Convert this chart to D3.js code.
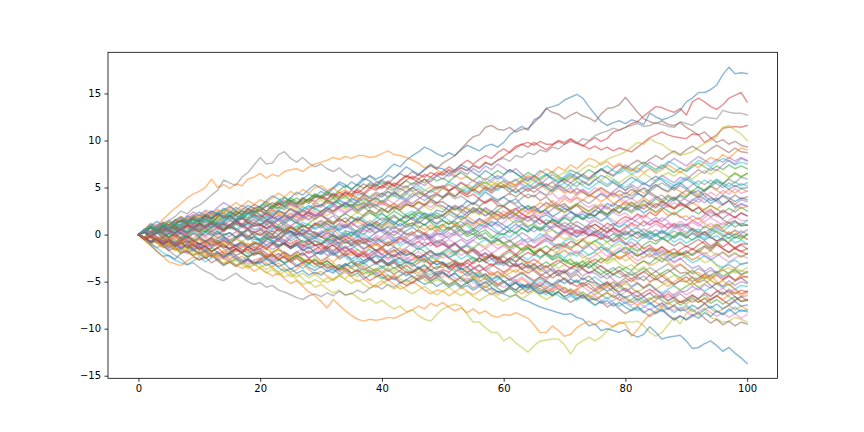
<!DOCTYPE html>
<html><head><meta charset="utf-8">
<script src="https://cdn.jsdelivr.net/npm/d3@7"></script>
<style>html,body{margin:0;padding:0;background:#fff}svg{display:block}</style>
</head><body>
<svg id="chart" width="864" height="432"></svg>
<script>
const xTicks = [0, 20, 40, 60, 80, 100];
const yTicks = [-15, -10, -5, 0, 5, 10, 15];

const walk00 = [0,0.4,0.9,0.6,1.2,1.0,1.5,1.9,1.4,1.8, 2.1,1.7,2.3,2.0,2.6,3.0,2.5,2.2,2.8,2.4, 2.6,3.1,2.7,3.3,3.9,3.5,3.2,3.8,4.3,4.0, 4.6,4.2,4.9,5.4,5.0,5.6,5.2,5.8,6.3,5.9, 6.2,6.9,7.5,7.2,7.9,8.4,8.8,9.3,9.0,8.6, 8.3,8.7,8.4,9.0,9.5,9.2,8.9,9.4,9.6,9.3, 9.8,10.6,11.1,11.5,11.1,12.2,12.5,13.4,13.6,13.8, 14.3,14.6,14.9,14.5,13.6,12.8,12.0,11.6,11.9,12.1, 11.8,12.2,12.0,11.7,12.9,12.5,12.2,12.4,12.7,13.2, 14.1,14.5,15.1,15.1,15.4,15.9,17.0,17.8,17.1,17.2, 17.1];
const walk01 = [0,0.6,1.2,0.9,1.6,2.2,2.8,3.3,3.9,4.3, 4.6,5.0,5.9,5.0,5.3,4.9,5.4,5.2,5.9,6.1, 6.5,6.0,6.4,6.2,6.7,6.9,7.0,6.7,7.2,7.5, 7.7,7.9,8.2,8.0,8.3,8.1,8.4,8.4,8.2,8.3, 8.6,8.9,8.5,8.4,8.2,7.9,7.6,7.1,7.4,6.9, 6.5,6.8,6.3,5.9,6.2,5.7,5.3,5.6,5.1,5.4, 5.0,5.5,5.2,5.7,5.3,4.9,5.3,4.8,4.5,4.9, 4.4,4.7,4.2,4.6,4.1,4.5,4.9,4.4,4.0,4.3, 3.9,4.4,4.8,4.4,4.9,5.3,4.8,4.5,5.0,4.6, 4.2,4.7,4.3,4.8,5.1,4.7,4.3,4.8,4.4,4.9, 4.6];
const walk02 = [0,0.3,0.8,0.4,1.0,0.7,1.2,1.6,1.3,1.9, 1.5,2.0,1.7,2.2,2.6,2.3,2.9,2.5,2.2,2.7, 3.0,3.5,3.1,3.6,4.0,3.5,3.9,3.4,3.8,4.3, 4.0,4.5,4.1,4.7,5.2,4.8,5.3,4.9,5.5,5.1, 5.6,5.2,4.8,5.3,5.7,5.3,5.9,5.5,6.1,5.7, 6.0,5.6,6.2,6.6,6.1,5.7,6.2,5.8,6.3,6.8, 6.4,6.9,6.5,6.1,6.6,6.2,5.8,6.3,6.7,6.2, 5.8,6.3,5.9,6.4,6.9,6.5,7.0,6.6,6.2,6.7, 7.2,6.8,7.3,7.7,7.3,6.9,7.4,7.0,6.6,7.1, 6.7,7.2,7.6,7.2,6.8,7.3,6.9,7.4,7.0,7.3, 7.0];
const walk03 = [0,0.5,0.2,0.8,0.5,1.1,0.7,0.4,0.9,1.3, 1.0,1.6,1.2,1.9,2.3,1.9,2.5,2.1,2.7,3.2, 2.9,2.5,3.0,3.4,3.0,3.6,3.3,3.9,3.5,4.1, 3.8,4.3,3.9,4.5,4.1,4.7,4.4,4.9,5.3,4.9, 5.1,5.6,5.2,5.8,6.3,5.9,6.4,6.1,6.6,6.3, 6.7,7.2,6.8,7.4,7.9,7.5,8.0,8.4,8.1,8.7, 9.1,8.7,9.2,9.6,9.3,9.8,9.4,9.0,9.5,9.9, 9.6,10.1,9.7,9.4,9.9,10.3,9.9,10.2,10.9,11.1, 11.4,11.8,12.0,12.6,13.1,13.6,13.5,13.2,13.0,13.4, 12.7,14.1,14.5,14.1,13.6,13.3,13.8,14.5,14.8,15.1, 14.1];
const walk04 = [0,-0.4,-0.1,-0.7,-0.5,-1.1,-0.8,-0.3,-0.6,-1.2, -1.5,-1.0,-0.6,-0.9,-0.4,-0.8,-1.3,-1.0,-1.4,-0.9, -1.1,-0.5,-0.2,-0.6,0.1,0.4,0.0,0.6,0.3,0.9, 1.3,0.8,0.5,1.0,0.7,1.2,1.7,1.4,0.9,1.3, 1.8,1.5,1.1,1.6,2.0,1.7,2.3,1.9,1.5,1.8, 2.1,2.6,2.2,1.8,2.3,2.9,2.5,2.0,2.4,2.1, 1.7,2.2,2.7,3.1,2.6,3.0,2.5,2.2,2.7,3.2, 2.8,2.4,2.0,2.5,2.1,2.6,3.1,2.7,3.3,3.0, 3.5,3.1,2.6,3.0,3.5,4.0,3.6,3.2,3.7,4.1, 3.7,3.3,3.8,3.4,3.9,3.5,3.1,3.6,3.2,3.7, 3.5];
const walk05 = [0,-0.3,0.2,0.6,0.3,0.8,0.5,1.0,0.7,1.2, 0.9,1.4,1.1,1.7,1.3,1.9,2.2,1.8,2.4,2.1, 2.6,2.3,2.8,3.3,2.9,3.4,3.1,3.7,3.3,3.9, 4.2,3.8,4.4,4.1,4.6,4.3,4.9,5.4,5.0,5.5, 5.8,5.4,6.0,6.5,6.1,6.7,6.3,6.9,7.3,7.0, 7.6,8.0,8.4,9.1,9.8,10.4,10.6,11.4,11.6,11.2, 11.1,11.4,10.9,11.2,11.3,11.9,12.6,13.4,13.0,12.8, 12.3,12.7,13.0,12.6,12.4,12.0,12.8,13.4,13.5,13.8, 14.6,13.8,13.0,12.3,12.0,11.8,12.1,11.7,11.6,11.9, 11.4,11.0,10.6,10.9,10.3,9.8,10.1,9.6,9.9,9.5, 9.3];
const walk06 = [0,0.5,0.9,0.6,0.2,0.7,1.1,0.8,1.3,0.9, 0.5,1.0,1.4,1.1,0.6,0.9,1.4,1.8,1.3,1.0, 1.1,0.7,0.3,0.7,0.2,-0.2,0.3,0.0,-0.5,-0.1, 0.4,0.0,-0.4,-0.9,-0.5,-1.0,-0.6,-0.2,-0.7,-1.1, -0.7,-1.2,-0.8,-0.3,-0.7,-1.2,-1.6,-1.2,-0.8,-1.3, -1.0,-0.5,-0.9,-1.4,-1.0,-0.6,-1.1,-1.5,-2.0,-1.6, -1.2,-1.7,-1.3,-0.9,-1.4,-1.9,-1.5,-2.0,-2.4,-2.0, -1.6,-2.1,-1.7,-2.2,-2.6,-2.2,-1.8,-2.3,-1.9,-1.4, -1.8,-2.3,-2.8,-2.4,-2.0,-2.5,-2.1,-2.6,-3.0,-2.6, -2.2,-2.7,-2.3,-1.9,-2.4,-2.0,-2.5,-2.9,-2.5,-2.2, -2.5];
const walk07 = [0,0.4,0.9,0.6,1.2,1.5,1.9,2.5,2.2,2.8, 3.1,3.6,4.2,4.7,5.8,5.5,5.2,6.1,6.6,7.4, 8.2,7.5,7.6,8.5,8.8,8.1,7.7,8.2,7.6,7.2, 7.5,7.0,6.7,7.1,6.5,6.1,6.4,5.8,6.2,5.7, 5.3,5.7,5.2,4.8,5.2,4.6,4.9,4.3,4.0,4.4, 3.9,4.3,3.8,4.1,3.6,3.2,3.7,3.3,3.8,3.4, 3.0,3.5,3.1,2.6,3.0,2.5,2.9,3.4,3.0,2.6, 3.1,2.7,3.2,3.7,3.3,3.8,4.3,3.9,4.4,4.0, 4.5,4.1,4.6,5.0,4.6,5.1,5.5,5.1,4.7,5.2, 4.8,5.3,5.7,5.3,5.8,5.4,5.0,5.5,5.1,5.4, 5.2];
const walk08 = [0,-0.3,0.2,-0.4,-0.9,-0.6,-1.2,-0.9,-1.5,-1.3, -1.7,-1.4,-2.0,-2.4,-2.1,-2.7,-2.3,-2.9,-3.3,-2.8, -3.2,-3.7,-3.4,-4.0,-4.5,-4.2,-4.8,-5.3,-5.0,-5.6, -5.3,-5.8,-6.2,-5.9,-6.5,-6.2,-6.7,-7.1,-6.8,-7.3, -7.0,-7.5,-7.9,-7.6,-8.2,-8.0,-8.6,-9.0,-9.2,-8.5, -7.9,-7.6,-7.4,-7.6,-8.5,-9.3,-9.3,-9.9,-10.4,-10.4, -11.3,-10.9,-11.5,-12.0,-12.5,-11.8,-11.3,-11.2,-11.1,-11.1, -11.7,-12.7,-11.7,-11.3,-10.9,-11.3,-10.9,-10.2,-9.7,-9.5, -9.3,-9.3,-9.2,-9.7,-10.4,-10.8,-10.4,-9.6,-8.8,-9.5, -8.4,-7.9,-8.6,-7.9,-8.8,-9.0,-9.3,-9.2,-8.8,-9.0, -9.3];
const walk09 = [0,-0.5,-1.0,-1.4,-1.9,-2.3,-2.7,-3.0,-3.2,-2.8, -2.4,-2.9,-2.5,-2.0,-2.4,-1.9,-2.3,-2.7,-2.2,-1.8, -2.1,-2.6,-3.0,-2.6,-3.1,-2.7,-3.2,-3.6,-3.1,-3.5, -3.0,-3.4,-3.9,-3.5,-3.1,-3.6,-4.0,-3.6,-4.1,-3.7, -3.3,-3.8,-4.2,-3.8,-4.3,-3.9,-3.4,-3.9,-4.3,-3.9, -4.0,-4.5,-4.1,-4.6,-5.0,-4.6,-4.2,-4.7,-5.2,-4.8, -4.4,-4.9,-4.5,-4.1,-4.6,-5.1,-4.7,-5.2,-5.6,-5.1, -4.7,-5.2,-4.8,-5.3,-4.9,-4.5,-5.0,-5.5,-5.1,-5.6, -6.0,-5.6,-5.2,-5.7,-5.3,-5.8,-6.2,-5.8,-5.4,-5.9, -5.5,-5.1,-5.6,-6.0,-5.6,-5.2,-5.7,-5.3,-5.8,-5.4, -5.5];
const walk10 = [0,-0.6,-1.1,-1.8,-2.3,-2.2,-2.6,-2.0,-1.7,-2.2, -1.9,-2.5,-2.1,-2.8,-3.3,-2.9,-2.6,-3.1,-2.7,-3.2, -3.0,-2.5,-2.9,-3.4,-3.1,-3.7,-3.3,-2.9,-3.5,-3.8, -3.4,-3.9,-3.6,-4.2,-3.8,-4.4,-4.1,-4.7,-4.3,-4.0, -4.5,-4.9,-4.6,-5.2,-4.8,-4.4,-4.9,-5.3,-5.0,-5.5, -5.1,-5.6,-5.2,-5.7,-5.4,-5.9,-5.5,-6.0,-5.7,-6.1, -6.3,-6.6,-6.4,-6.9,-7.1,-7.4,-7.7,-7.9,-8.1,-8.3, -8.5,-8.4,-8.8,-9.0,-9.7,-9.5,-10.2,-10.0,-10.2,-10.4, -10.1,-10.6,-10.9,-10.6,-9.8,-10.4,-11.1,-10.9,-10.8,-10.7, -11.3,-12.1,-12.0,-11.6,-11.3,-11.8,-12.4,-12.0,-12.6,-13.1, -13.7];
const walk11 = [0,-0.5,-0.2,-0.8,-1.3,-1.0,-1.6,-1.3,-1.9,-2.2, -1.8,-2.3,-2.0,-2.6,-3.1,-2.7,-3.2,-3.6,-3.3,-3.9, -3.5,-4.0,-4.4,-4.1,-4.7,-5.2,-4.9,-5.5,-6.1,-6.5, -7.1,-7.8,-6.9,-7.5,-8.1,-8.6,-9.0,-9.2,-9.0,-9.1, -9.0,-8.8,-8.9,-8.6,-8.3,-8.0,-7.6,-7.9,-7.3,-7.6, -7.2,-7.7,-8.1,-7.8,-8.3,-7.9,-8.4,-8.1,-8.6,-8.8, -8.5,-8.6,-8.3,-8.6,-8.9,-9.6,-10.4,-10.4,-9.7,-10.2, -10.8,-10.6,-9.9,-9.5,-9.2,-9.6,-9.1,-9.4,-9.8,-9.3, -9.5,-10.8,-10.1,-9.2,-8.5,-8.1,-7.6,-8.0,-7.5,-7.1, -7.4,-6.9,-7.2,-6.7,-7.0,-6.5,-6.9,-6.4,-6.1,-6.5, -6.2];
const walk12 = [0,0.3,-0.2,-0.6,-0.3,-0.8,-0.5,-1.0,-0.7,-1.2, -0.9,-1.3,-1.8,-1.4,-1.0,-1.5,-1.1,-1.6,-2.0,-1.6, -1.5,-2.0,-2.4,-2.0,-2.5,-2.9,-2.5,-3.0,-2.6,-3.1, -3.5,-3.1,-3.6,-3.2,-3.7,-4.1,-3.7,-4.2,-3.8,-4.3, -4.7,-4.3,-4.8,-4.4,-4.0,-4.5,-4.9,-4.5,-5.0,-4.6, -5.0,-5.4,-5.0,-5.5,-5.1,-4.7,-5.2,-5.6,-5.2,-5.7, -6.1,-5.7,-6.2,-5.8,-5.4,-5.9,-6.3,-5.9,-6.4,-6.0, -5.6,-6.1,-6.5,-6.1,-6.6,-7.0,-6.6,-6.2,-6.7,-6.3, -6.8,-7.2,-6.8,-7.3,-6.9,-6.5,-7.0,-7.4,-7.0,-7.5, -7.1,-6.7,-7.2,-6.8,-7.3,-6.9,-7.4,-7.0,-6.6,-7.1, -7.0];
const walk13 = [0,-0.4,0.1,0.5,0.2,0.7,1.1,0.8,1.4,1.0, 1.5,1.9,1.6,2.2,2.0,1.6,2.1,2.5,2.2,2.8, 2.5,3.0,3.4,3.1,3.6,3.2,2.9,3.4,3.8,3.5, 4.0,3.7,4.3,3.9,4.5,4.2,4.8,4.4,5.0,4.7, 5.2,4.9,5.5,5.2,5.8,6.2,5.9,6.4,6.1,6.6, 6.3,6.9,6.6,7.1,6.8,7.4,7.1,7.7,7.4,7.9, 8.3,8.8,9.4,9.6,9.8,9.5,9.9,9.6,9.6,10.0, 9.8,10.2,9.8,9.5,9.1,9.4,9.0,9.3,8.9,9.2, 9.0,8.8,9.3,9.8,10.3,10.6,10.9,10.6,10.4,10.3, 10.2,10.7,10.6,9.8,10.2,10.6,11.3,11.4,11.5,11.4, 11.6];
const walk14 = [0,0.6,0.4,1.1,0.8,1.5,1.2,1.0,1.7,2.1, 1.6,1.9,2.5,2.2,1.8,2.4,2.0,1.7,2.3,2.6, 2.1,1.8,2.4,2.9,2.7,3.3,3.0,2.5,2.8,3.4, 3.1,3.7,3.3,2.9,3.2,3.8,3.5,3.1,3.6,3.9, 3.4,3.9,4.5,4.1,3.8,4.4,4.0,3.6,4.1,4.3, 4.0,4.6,5.1,4.7,4.4,5.0,5.5,5.1,4.8,5.3, 5.7,5.2,5.0,5.6,6.1,5.7,5.3,5.9,6.4,6.0, 5.5,6.0,6.6,6.2,5.9,6.5,7.0,6.6,6.3,6.9, 7.4,7.0,6.6,7.2,7.7,7.3,7.0,7.6,8.1,7.7, 7.3,7.8,8.3,7.9,7.5,8.0,7.7,8.2,7.8,8.2, 7.9];
const walk15 = [0,-0.3,-0.9,-0.6,-1.0,-0.7,-1.3,-1.0,-0.6,-1.1, -1.5,-1.2,-1.8,-1.4,-1.1,-1.6,-2.2,-1.9,-2.4,-2.0, -1.7,-2.3,-1.9,-1.5,-2.0,-2.6,-2.3,-1.9,-2.5,-2.2, -2.8,-2.4,-2.0,-2.6,-2.2,-2.7,-3.2,-2.8,-2.4,-3.0, -2.6,-3.1,-2.7,-2.4,-2.9,-3.4,-3.0,-2.6,-3.2,-2.8, -3.1,-3.7,-3.3,-3.9,-4.4,-4.0,-4.6,-4.2,-4.8,-5.3, -4.9,-5.5,-5.1,-5.7,-6.2,-5.8,-5.4,-6.0,-6.5,-6.1, -6.7,-7.2,-6.8,-6.4,-7.0,-7.5,-7.1,-7.7,-7.3,-7.9, -8.4,-8.0,-7.6,-8.2,-8.7,-8.3,-7.9,-8.5,-9.0,-8.6, -9.1,-8.7,-8.3,-8.9,-9.4,-9.0,-9.6,-9.2,-9.7,-9.3, -9.5];
const walk16 = [0,0.4,0.1,0.7,0.3,0.9,0.6,0.2,0.8,1.2, 0.8,1.3,0.9,0.5,1.0,1.5,1.1,1.7,1.3,1.8, 1.5,1.1,1.6,2.1,1.7,2.2,1.8,2.4,2.0,2.5, 2.1,2.6,3.0,2.6,2.2,2.7,3.2,2.8,3.3,2.9, 3.4,3.0,2.6,3.1,3.5,3.1,2.7,3.3,2.9,3.4, 3.0,2.6,3.1,2.7,2.3,2.8,2.4,2.9,2.5,2.0, 2.5,2.1,2.6,2.2,1.8,2.3,1.9,2.4,2.0,1.6, 2.1,1.7,2.2,1.8,1.3,1.8,1.4,1.9,1.5,1.1, 1.6,1.2,1.7,2.1,1.7,1.3,1.8,1.4,0.9,1.4, 1.0,1.5,1.1,0.7,1.2,0.8,1.3,0.9,1.4,1.0, 1.0];
const walk17 = [0,0.3,-0.2,0.2,-0.3,0.1,0.6,0.3,0.8,0.4, 0.6,1.1,0.7,1.3,1.0,1.5,1.2,1.8,1.5,2.0, 1.7,2.2,1.9,2.5,2.2,2.7,2.4,3.0,2.6,3.1, 2.9,3.4,3.1,3.6,3.3,3.9,3.6,4.2,4.0,4.5, 4.3,4.9,4.6,5.2,5.0,5.5,5.3,5.9,5.6,6.2, 6.5,6.2,6.8,7.1,6.8,7.3,7.0,7.6,7.4,7.9, 8.1,7.8,8.4,8.2,8.7,8.5,9.0,8.8,9.3,9.1, 9.6,9.9,9.7,10.2,10.0,10.5,10.8,11.0,11.3,11.1, 11.4,11.6,11.8,11.5,11.6,11.9,11.7,11.5,11.4,12.0, 11.8,11.6,12.1,12.5,12.4,12.3,13.2,13.0,12.9,12.9, 12.7];
const walk18 = [0,0.2,-0.3,-0.7,-0.4,0.1,-0.2,0.3,0.0,0.5, 0.9,0.6,1.1,0.8,0.4,0.9,1.3,1.0,1.5,1.2, 1.7,1.4,1.9,2.3,2.0,1.6,2.1,2.5,2.2,2.7, 2.4,2.0,2.6,3.0,2.7,3.2,2.9,3.5,3.1,3.6, 3.3,3.8,4.2,3.9,4.4,4.0,4.5,4.2,4.7,4.4, 4.9,4.6,5.1,4.8,5.3,5.0,5.4,5.1,5.6,5.3, 5.6,5.2,5.8,6.1,5.7,6.2,5.9,6.4,6.0,6.3, 6.6,6.9,6.5,7.0,7.4,7.1,7.6,8.0,8.3,8.5, 8.8,9.3,9.8,9.6,10.2,9.8,9.6,9.1,8.7,8.4, 8.6,8.8,9.3,9.7,10.0,10.4,11.4,11.6,11.1,10.7, 10.0];
const walk19 = [0,0.4,0.9,0.7,0.1,-0.3,0.2,0.5,1.1,0.8, 0.4,0.3,0.9,1.4,1.2,0.7,0.5,1.0,0.6,1.3, 1.0,1.5,2.2,2.6,2.3,1.8,2.1,2.7,3.0,2.8, 2.4,2.9,3.5,3.3,3.0,3.6,4.2,4.4,3.9,3.7, 4.2,4.6,4.1,3.8,4.3,4.9,5.2,4.7,4.5,4.9, 5.0,5.6,5.3,4.8,4.6,5.1,5.7,5.4,5.9,6.3, 5.8,5.5,5.9,5.4,5.0,5.5,6.1,6.4,6.0,5.7, 6.2,6.8,6.6,6.1,5.8,6.3,6.9,7.3,6.8,6.5, 6.9,6.4,6.8,7.4,7.1,6.7,7.2,7.8,7.5,7.0, 6.8,7.3,7.9,7.6,7.2,7.7,8.1,7.8,7.4,7.7, 7.5];
const walk20 = [0,-0.5,-0.2,0.3,0.1,-0.4,-0.9,-0.7,-0.2,-0.5, -1.0,-1.3,-0.8,-0.6,-1.1,-1.6,-1.2,-0.9,-1.4,-1.1, -0.8,-0.3,-0.6,-1.1,-0.9,-0.4,0.1,-0.2,-0.7,-0.4, 0.1,0.4,-0.1,-0.5,-0.2,0.3,0.0,-0.6,-0.3,0.2, 0.5,0.1,-0.4,-0.2,0.4,0.8,0.3,0.0,-0.4,0.1, 0.0,0.5,1.0,0.7,0.2,0.6,1.1,0.9,1.4,1.1, 0.6,1.0,1.5,1.3,0.8,1.2,1.8,2.1,1.7,1.4, 1.9,2.4,2.1,1.6,2.0,2.6,2.3,1.9,2.4,2.9, 2.6,3.1,2.8,2.3,2.7,3.3,3.0,3.5,3.9,3.4, 3.1,3.6,4.1,3.8,3.3,3.7,4.2,3.9,3.5,3.9, 3.7];
const walk21 = [0,-0.6,-1.2,-1.7,-2.3,-2.9,-3.1,-3.3,-2.8,-2.4, -2.7,-2.2,-1.8,-2.3,-1.9,-1.4,-1.8,-1.3,-0.9,-1.4, -1.0,-1.5,-2.0,-1.6,-2.1,-2.5,-2.1,-2.6,-3.0,-2.6, -3.1,-2.8,-3.3,-3.7,-3.2,-3.6,-3.1,-3.5,-4.0,-3.6, -4.1,-3.7,-4.2,-3.8,-3.3,-3.7,-4.1,-3.6,-4.0,-4.5, -4.1,-4.6,-5.0,-4.5,-4.9,-4.4,-4.8,-5.3,-4.9,-5.4, -5.0,-5.5,-5.1,-4.7,-5.2,-5.6,-5.2,-5.7,-6.1,-5.7, -6.2,-5.8,-6.3,-6.8,-6.4,-6.9,-6.5,-6.1,-6.6,-7.0, -6.6,-7.1,-7.5,-7.1,-6.7,-7.2,-7.6,-7.2,-7.7,-8.1, -7.7,-8.2,-7.8,-7.4,-7.9,-8.3,-7.9,-7.5,-8.0,-7.6, -8.0];
const walk22 = [0,0.5,0.3,0.8,1.3,1.0,0.6,1.1,1.5,1.2, 1.7,2.1,1.8,1.4,1.9,2.4,2.0,1.6,2.2,2.5, 2.1,1.6,1.2,1.5,1.0,0.6,0.9,0.4,0.0,0.3, -0.2,-0.5,0.0,-0.4,-0.9,-0.6,-1.1,-0.8,-1.3,-1.7, -1.4,-0.9,-1.3,-1.8,-2.2,-1.9,-1.4,-1.8,-2.3,-2.0, -2.0,-2.5,-2.1,-1.6,-2.0,-2.5,-2.9,-2.6,-2.2,-2.7, -3.1,-2.8,-2.3,-2.7,-3.2,-3.6,-3.3,-2.9,-3.4,-3.0, -2.6,-3.1,-3.5,-3.2,-2.8,-3.3,-3.8,-4.2,-3.8,-3.4, -3.9,-4.3,-4.0,-3.6,-4.1,-4.5,-4.1,-3.7,-4.2,-4.6, -4.2,-3.8,-4.3,-4.7,-4.3,-3.9,-4.4,-4.1,-3.7,-4.2, -4.0];
const walk23 = [0,0.4,-0.1,0.3,0.8,0.5,0.0,-0.3,0.2,0.6, 0.3,0.8,1.2,0.7,0.4,0.9,0.5,0.1,0.6,0.2, 0.5,0.0,-0.4,-0.1,-0.6,-1.0,-0.6,-1.1,-1.5,-1.1, -1.6,-1.2,-0.8,-1.3,-1.8,-1.5,-2.0,-2.4,-2.0,-1.6, -2.1,-2.5,-2.1,-2.6,-3.0,-2.6,-2.2,-2.7,-3.2,-2.8, -3.0,-3.5,-3.1,-3.6,-4.0,-3.6,-3.2,-3.8,-4.3,-3.9, -4.4,-4.8,-4.4,-4.0,-4.5,-4.9,-4.5,-5.0,-5.4,-5.0, -4.6,-5.1,-5.5,-5.1,-5.6,-6.0,-5.6,-5.2,-5.7,-6.1, -5.7,-6.2,-6.6,-6.2,-5.8,-6.3,-6.7,-6.3,-6.8,-7.2, -6.8,-6.4,-6.9,-7.3,-6.9,-6.5,-7.0,-7.4,-7.0,-6.6, -7.0];
const walk24 = [0,-0.4,-0.9,-0.6,-1.1,-1.5,-1.2,-1.7,-2.0,-1.6, -2.1,-2.5,-2.2,-2.7,-2.4,-2.9,-3.3,-2.9,-2.5,-3.0, -3.0,-2.6,-3.1,-2.7,-2.3,-2.8,-2.4,-2.0,-2.5,-2.1, -1.7,-2.2,-1.8,-1.4,-1.9,-1.5,-1.1,-1.6,-1.2,-1.7, -2.1,-1.7,-1.3,-1.8,-1.4,-0.9,-1.3,-0.8,-1.2,-0.7, -1.0,-1.4,-0.9,-0.5,-1.0,-0.6,-0.1,-0.5,-1.0,-0.6, -0.2,-0.7,-0.3,0.2,-0.2,-0.7,-0.3,0.1,-0.4,0.0, 0.5,0.1,-0.3,0.2,0.6,0.2,-0.2,0.3,0.7,0.3, -0.1,0.4,0.0,-0.4,0.1,0.5,0.1,0.6,1.0,0.6, 0.2,0.7,0.3,-0.1,0.4,0.8,0.4,0.0,0.5,0.1, 0.5];
const walk25 = [0,0.3,0.7,0.4,-0.1,0.4,0.2,0.7,1.0,0.6, 0.3,0.8,1.2,0.8,0.5,1.0,1.4,1.1,0.7,1.2, 1.0,1.5,1.9,1.6,2.1,1.7,2.2,2.6,2.3,1.9, 2.4,2.8,2.4,2.9,3.3,2.9,2.5,3.0,3.4,3.1, 3.6,3.2,2.8,3.3,3.7,3.3,3.8,4.2,3.8,3.4, 3.5,3.0,2.6,3.1,2.7,2.3,2.8,2.4,2.0,2.5, 2.1,1.7,2.2,1.8,1.4,1.9,1.5,1.1,1.6,1.2, 0.8,1.3,0.9,0.5,1.0,0.6,0.2,0.7,0.3,-0.1, 0.4,0.0,-0.4,0.1,-0.3,-0.7,-0.3,-0.8,-1.2,-0.8, -1.3,-0.9,-0.5,-1.0,-1.4,-1.0,-1.5,-1.9,-1.5,-1.1, -1.5];
const walk26 = [0,-0.4,-0.1,-0.6,-1.0,-0.7,-1.1,-0.8,-0.4,-0.9, -1.3,-0.9,-1.4,-1.0,-0.6,-1.1,-1.5,-1.2,-1.7,-1.3, -1.5,-2.0,-2.4,-2.0,-2.5,-2.9,-2.5,-3.0,-2.6,-3.1, -3.5,-3.1,-3.6,-3.2,-3.7,-4.1,-3.7,-3.3,-3.8,-4.2, -3.8,-4.3,-4.7,-4.3,-3.9,-4.4,-4.8,-4.4,-4.9,-4.5, -4.5,-4.1,-4.6,-5.0,-4.6,-5.1,-5.5,-5.1,-4.7,-5.2, -5.6,-5.2,-4.8,-5.3,-5.7,-5.3,-5.8,-6.2,-5.8,-5.4, -5.9,-6.3,-5.9,-5.5,-6.0,-6.4,-6.0,-5.6,-6.1,-6.5, -6.1,-5.7,-6.2,-6.6,-6.2,-5.8,-6.3,-6.7,-6.3,-5.9, -6.4,-6.0,-5.6,-6.1,-6.5,-6.1,-5.7,-6.2,-5.8,-6.3, -6.0];
const walk27 = [0,-0.5,-0.9,-1.4,-1.1,-1.7,-2.2,-2.6,-3.2,-3.0, -3.5,-3.9,-4.2,-4.7,-4.9,-4.5,-4.1,-4.6,-5.0,-5.3, -5.1,-5.6,-5.4,-5.9,-6.1,-6.4,-6.7,-6.9,-6.5,-6.3, -6.6,-6.2,-6.5,-6.0,-6.4,-6.3,-5.9,-6.2,-5.7,-5.4, -5.8,-5.3,-5.6,-5.1,-4.8,-5.2,-4.7,-4.4,-4.9,-4.5, -4.1,-4.5,-4.0,-3.6,-4.1,-3.7,-3.3,-3.8,-3.4,-3.0, -3.3,-2.9,-3.4,-3.1,-3.6,-3.2,-3.7,-4.1,-3.7,-4.2, -3.9,-4.4,-4.0,-3.6,-4.1,-3.8,-4.3,-4.7,-4.2,-4.6, -4.3,-3.9,-4.4,-4.0,-3.5,-3.9,-3.5,-3.1,-3.6,-3.2, -3.7,-4.1,-3.6,-4.0,-4.5,-4.1,-3.7,-4.2,-3.8,-4.3, -3.9];
const walk28 = [0,0.4,0.9,0.5,1.0,1.4,1.1,0.7,1.2,1.6, 1.3,1.8,1.4,1.9,2.3,1.9,2.4,2.0,2.6,2.2, 2.5,2.1,2.6,3.0,2.6,3.1,2.7,3.2,3.6,3.2, 3.7,3.3,3.8,4.2,3.8,4.3,3.9,3.5,4.0,4.4, 4.0,4.5,4.1,4.6,5.0,4.6,4.2,4.7,5.1,4.7, 5.0,5.4,5.0,5.5,5.1,4.7,5.2,5.6,5.2,5.7, 5.3,4.9,5.4,5.8,5.4,5.9,5.5,5.1,5.6,6.0, 5.6,6.1,5.7,5.3,5.8,6.2,5.8,6.3,5.9,5.5, 6.0,6.4,6.0,6.5,6.1,5.7,6.2,6.6,6.2,6.7, 6.3,5.9,6.4,6.8,6.4,6.9,6.5,6.1,6.6,6.2, 6.5];
const walk29 = [0,0.2,-0.3,-0.9,-0.6,-0.1,0.3,0.0,-0.6,-0.8, -0.3,0.2,0.6,0.3,-0.2,-0.7,-0.4,0.1,-0.2,-0.8, -0.5,0.0,0.6,0.9,0.5,0.2,0.7,1.3,1.0,0.6, 0.9,1.4,1.1,0.5,0.8,1.3,1.9,1.6,1.2,1.7, 2.2,1.8,1.3,1.6,2.2,2.5,2.0,1.7,2.3,2.0, 2.0,1.5,1.1,1.4,0.9,0.4,0.8,1.3,0.9,0.3, 0.0,0.5,0.2,-0.4,-0.8,-0.5,0.1,-0.3,-0.9,-1.2, -0.7,-0.4,-1.0,-1.5,-1.1,-0.6,-1.0,-1.6,-2.1,-1.8, -1.3,-1.7,-2.2,-2.0,-1.5,-1.9,-2.5,-2.8,-2.4,-2.0, -2.5,-3.0,-2.7,-2.2,-2.6,-3.2,-3.5,-3.0,-2.7,-3.2, -3.0];
const walk30 = [0,0.5,1.1,0.8,0.4,0.9,1.5,1.8,1.4,1.9, 2.4,2.0,1.7,2.3,2.8,2.5,2.1,2.6,3.1,2.8, 3.0,3.6,4.1,3.8,3.3,3.9,4.5,4.2,4.8,5.3, 4.9,4.5,5.0,5.6,5.3,4.8,5.4,6.0,5.7,5.2, 5.8,6.3,6.0,6.6,7.2,6.8,6.4,6.9,7.5,7.1, 7.0,6.5,6.9,7.4,7.1,6.6,6.2,6.8,6.4,5.9, 6.3,6.9,6.5,6.0,5.7,6.2,6.8,6.4,5.9,5.5, 6.0,6.5,6.1,5.6,5.2,5.8,6.3,6.0,5.5,5.1, 5.6,6.1,5.7,5.3,5.8,6.2,5.8,5.3,4.9,5.4, 5.9,5.5,5.0,4.6,5.1,5.6,5.3,4.8,5.2,4.9, 5.0];
const walk31 = [0,-0.5,-0.3,-0.8,-1.2,-0.9,-1.4,-1.9,-1.6,-1.1, -1.5,-2.0,-2.4,-2.1,-1.7,-2.2,-2.6,-2.3,-2.8,-3.1, -2.5,-3.0,-3.4,-3.0,-3.6,-4.0,-3.7,-3.2,-3.7,-4.2, -3.9,-4.4,-4.8,-4.4,-4.0,-4.5,-5.0,-4.7,-5.2,-5.6, -5.2,-4.8,-5.3,-5.8,-5.5,-5.0,-5.4,-5.9,-6.3,-5.9, -6.0,-6.5,-6.1,-5.6,-6.0,-6.4,-6.0,-5.5,-5.9,-6.4, -6.0,-5.5,-5.9,-6.3,-5.8,-5.4,-5.8,-6.2,-5.7,-5.3, -5.7,-6.2,-5.8,-5.3,-4.9,-5.4,-5.8,-5.4,-5.0,-5.5, -5.1,-4.7,-5.2,-5.6,-5.1,-4.7,-5.1,-5.5,-5.0,-4.6, -5.0,-5.4,-4.9,-4.5,-4.9,-5.3,-4.8,-4.4,-4.8,-4.3, -4.5];
const walk32 = [0,-0.3,0.2,0.7,0.4,0.9,0.6,0.1,0.5,1.0, 0.7,0.3,0.8,1.3,1.0,0.6,1.1,0.8,1.3,0.9, 1.0,1.5,1.1,0.7,1.2,1.6,1.3,0.8,1.2,1.7, 2.1,1.7,1.3,1.8,2.2,1.8,1.4,1.9,2.3,1.9, 1.5,2.0,2.5,2.1,1.7,2.2,2.6,2.2,1.8,2.3, 2.0,2.5,2.1,1.6,2.0,2.5,2.9,2.5,2.1,2.6, 3.0,2.6,2.2,2.7,3.1,2.7,2.3,2.8,3.2,2.8, 2.4,2.9,3.3,2.9,2.5,3.0,2.6,2.2,2.7,3.1, 2.7,2.3,2.8,3.2,2.8,2.4,2.9,2.5,2.1,2.6, 3.0,2.6,2.2,2.7,3.1,2.7,2.3,2.8,2.4,2.9, 2.5];
const walk33 = [0,-0.4,-0.9,-0.5,-0.2,-0.7,-0.3,0.2,-0.2,-0.6, -1.1,-0.8,-0.3,-0.7,-1.2,-1.5,-1.1,-0.7,-1.2,-0.9, -1.0,-1.4,-1.0,-0.6,-1.1,-1.5,-1.1,-1.6,-2.0,-1.6, -1.2,-1.7,-2.1,-1.7,-1.3,-1.8,-2.2,-1.8,-2.3,-1.9, -1.5,-2.0,-2.4,-2.0,-1.6,-2.1,-2.5,-2.1,-1.7,-2.2, -2.0,-2.5,-2.9,-3.4,-3.0,-3.5,-3.9,-3.5,-3.1,-3.6, -4.0,-3.6,-3.2,-3.7,-4.1,-3.7,-4.2,-4.6,-4.2,-3.8, -4.0,-3.6,-3.1,-3.5,-3.0,-2.6,-3.0,-2.5,-2.1,-2.6, -2.2,-1.8,-2.3,-1.9,-1.4,-1.8,-1.3,-1.7,-2.1,-1.6, -1.2,-1.6,-1.1,-0.7,-1.2,-0.8,-1.3,-0.9,-1.4,-1.0, -1.0];
const walk34 = [0,0.5,0.2,0.7,1.1,0.8,1.3,0.9,1.4,1.8, 1.4,1.9,1.5,1.1,1.6,2.0,1.6,2.1,2.5,2.1, 2.0,1.6,1.2,1.7,1.3,0.9,1.4,1.0,0.6,1.1, 0.7,1.2,0.8,0.4,0.9,0.5,0.1,0.6,0.2,0.7, 0.3,-0.1,0.4,0.0,-0.4,0.1,0.5,0.1,-0.3,0.2, 0.0,-0.4,0.1,-0.3,-0.7,-0.3,0.1,-0.4,-0.8,-0.4, -0.9,-1.3,-0.9,-0.5,-1.0,-1.4,-1.0,-0.6,-1.1,-1.5, -1.1,-1.6,-2.0,-1.6,-1.2,-1.7,-1.3,-1.8,-2.2,-1.8, -1.4,-1.9,-2.3,-1.9,-2.4,-2.0,-1.6,-2.1,-2.5,-2.1, -1.7,-2.2,-1.8,-2.3,-2.7,-2.3,-1.9,-2.4,-2.0,-2.4, -2.0];
const walk35 = [0,0.3,-0.2,-0.6,-0.3,0.2,-0.2,-0.7,-0.4,0.1, -0.3,-0.7,-0.3,0.2,-0.2,-0.6,-0.2,0.3,-0.1,-0.5, -0.5,0.0,0.4,0.0,0.5,0.9,0.5,1.0,0.6,1.1, 1.5,1.1,0.7,1.2,0.8,1.3,1.7,1.3,0.9,1.4, 1.0,1.5,1.9,1.5,2.0,1.6,1.2,1.7,2.1,1.7, 2.0,2.5,2.9,2.5,3.0,3.4,3.0,3.5,3.9,3.5, 4.0,4.4,4.0,4.5,4.9,4.5,5.0,5.4,5.0,5.5, 5.9,5.5,6.0,6.4,6.0,6.5,6.9,6.5,7.0,7.4, 7.0,7.5,7.9,7.5,8.0,8.4,8.0,8.5,8.9,8.5, 9.0,9.4,9.0,8.6,9.1,9.5,9.1,8.7,9.2,8.8, 8.7];
const walk36 = [0,0.4,0.0,-0.5,-0.2,0.3,-0.1,0.4,0.0,-0.4, 0.1,-0.3,0.2,-0.2,-0.6,-0.2,0.3,-0.1,0.4,0.0, 0.0,-0.4,-0.8,-0.4,-0.9,-1.3,-0.9,-1.4,-1.0,-1.5, -1.9,-1.5,-2.0,-1.6,-1.2,-1.7,-2.1,-1.7,-2.2,-1.8, -2.3,-2.7,-2.3,-1.9,-2.4,-2.8,-2.4,-2.9,-2.5,-2.1, -2.5,-2.1,-1.7,-2.2,-1.8,-1.4,-1.9,-1.5,-1.0,-1.5, -1.1,-0.7,-1.2,-0.8,-0.4,-0.9,-0.5,-0.1,-0.6,-0.2, 0.2,-0.2,0.3,-0.1,0.4,0.0,-0.4,0.1,0.5,0.1, 0.6,1.0,0.6,0.2,0.7,1.1,0.7,1.2,0.8,0.4, 0.9,1.3,0.9,1.4,1.8,1.4,1.0,1.5,1.9,1.5, 1.5];
const walk37 = [0,-0.3,-0.8,-0.5,-1.0,-0.6,-1.1,-1.5,-1.2,-0.8, -1.3,-1.7,-1.4,-1.0,-1.5,-1.9,-1.5,-2.0,-2.4,-2.0, -2.0,-2.5,-2.1,-2.6,-3.0,-2.6,-2.2,-2.7,-3.1,-2.7, -3.2,-2.8,-3.3,-3.7,-3.3,-2.9,-3.4,-3.8,-3.4,-3.0, -3.5,-3.9,-3.5,-4.0,-4.4,-4.0,-3.6,-4.1,-3.7,-4.2, -4.0,-4.5,-4.9,-4.5,-4.1,-4.6,-5.0,-4.6,-5.1,-5.5, -5.1,-4.7,-5.2,-5.6,-5.2,-5.7,-6.1,-5.7,-5.3,-5.8, -6.2,-5.8,-6.3,-6.7,-6.3,-5.9,-6.4,-6.8,-6.4,-6.9, -7.3,-6.9,-6.5,-7.0,-7.4,-7.0,-6.6,-7.1,-6.7,-6.3, -6.8,-7.2,-6.8,-6.4,-6.9,-6.5,-6.1,-6.6,-7.0,-6.6, -6.5];
const walk38 = [0,-0.5,-0.2,-0.7,-1.1,-0.8,-1.3,-1.7,-1.4,-1.9, -2.3,-1.9,-2.4,-2.1,-2.6,-3.0,-2.7,-3.2,-3.6,-3.2, -3.5,-3.1,-3.6,-4.0,-3.6,-4.1,-4.5,-4.1,-4.6,-4.2, -4.7,-5.1,-4.7,-4.3,-4.8,-5.2,-4.8,-5.3,-5.7,-5.3, -4.9,-5.4,-5.8,-5.4,-5.9,-6.3,-5.9,-5.5,-6.0,-6.4, -6.0,-5.6,-6.1,-6.5,-6.1,-6.6,-7.0,-6.6,-6.2,-6.7, -7.1,-6.7,-6.3,-6.8,-6.4,-6.0,-6.5,-6.9,-6.5,-6.1, -6.6,-6.2,-5.8,-6.3,-6.7,-6.3,-5.9,-5.5,-6.0,-5.6, -5.2,-5.7,-6.1,-5.7,-5.3,-5.8,-5.4,-5.0,-5.5,-5.9, -5.5,-5.1,-5.6,-5.2,-4.8,-5.3,-4.9,-5.4,-5.0,-4.6, -5.0];
const walk39 = [0,0.4,0.8,0.5,1.0,0.6,1.1,1.5,1.1,0.7, 1.2,1.6,1.2,0.8,1.3,1.7,1.3,1.8,2.2,1.8, 1.5,1.1,0.6,0.9,0.4,0.0,0.4,-0.1,-0.5,-0.1, -0.6,-1.0,-0.6,-1.1,-1.5,-1.1,-1.6,-2.0,-1.6,-2.1, -2.5,-2.1,-2.6,-3.0,-2.6,-3.1,-2.7,-2.3,-2.8,-3.2, -3.0,-3.5,-3.9,-3.5,-4.0,-4.4,-4.0,-4.5,-4.9,-4.5, -5.0,-5.4,-5.0,-5.5,-5.9,-5.5,-6.0,-6.4,-6.0,-6.5, -6.9,-6.5,-7.0,-6.6,-7.1,-7.5,-7.1,-6.7,-7.2,-7.6, -7.2,-7.7,-8.1,-7.7,-7.3,-7.8,-8.2,-7.8,-8.3,-7.9, -7.5,-8.0,-8.4,-8.0,-7.6,-8.1,-8.5,-8.1,-7.7,-8.2, -8.0];
const walk40 = [0,-0.4,0.1,-0.3,-0.8,-0.4,-0.9,-0.5,-0.1,-0.6, -1.0,-0.6,-1.1,-0.7,-0.3,-0.8,-1.2,-0.8,-1.3,-0.9, -1.0,-0.6,-0.1,-0.5,0.0,0.4,0.0,0.5,0.1,-0.3, 0.2,0.6,0.2,0.7,1.1,0.7,0.3,0.8,1.2,0.8, 1.3,1.7,1.3,0.9,1.4,1.8,1.4,1.0,1.5,1.1, 1.5,1.1,1.6,2.0,1.6,1.2,1.7,1.3,0.9,1.4, 1.0,0.6,1.1,0.7,0.3,0.8,0.4,0.9,0.5,0.1, 0.6,0.2,-0.2,0.3,-0.1,0.4,0.0,-0.4,0.1,-0.3, 0.2,-0.2,0.3,-0.1,-0.5,0.0,0.4,0.0,-0.4,0.1, -0.3,0.2,-0.2,-0.6,-0.2,-0.7,-0.3,0.1,-0.4,0.0, -0.5];
const walk41 = [0,0.5,0.2,0.7,1.1,0.7,1.2,1.6,1.2,1.7, 2.1,1.7,2.2,1.8,2.3,2.7,2.3,2.8,2.4,2.9, 2.5,2.1,2.6,2.2,1.8,2.3,1.9,1.5,2.0,1.6, 2.0,1.6,1.2,1.7,1.3,0.9,1.4,1.0,1.5,1.1, 0.7,1.2,0.8,0.4,0.9,1.3,0.9,0.5,1.0,0.6, 1.0,1.4,1.0,1.5,1.9,1.5,1.1,1.6,2.0,1.6, 2.1,2.5,2.1,1.7,2.2,2.6,2.2,2.7,3.1,2.7, 2.3,2.8,3.2,2.8,2.4,2.9,3.3,2.9,2.5,3.0, 3.4,3.0,3.5,3.9,3.5,3.1,3.6,3.2,2.8,3.3, 2.9,3.4,3.0,2.6,3.1,2.7,3.2,3.6,3.2,2.8, 3.0];
const walk42 = [0,-0.5,-0.2,-0.7,-1.1,-0.7,-1.2,-0.8,-1.3,-1.7, -1.3,-1.8,-1.4,-1.9,-2.3,-1.9,-1.5,-2.0,-2.4,-2.0, -2.0,-2.5,-2.1,-2.6,-3.0,-2.6,-2.2,-2.7,-3.1,-2.7, -3.2,-2.8,-3.3,-3.7,-3.3,-2.9,-3.4,-3.0,-3.5,-3.9, -3.5,-3.1,-3.6,-3.2,-3.7,-4.1,-3.7,-3.3,-3.8,-3.4, -3.5,-3.1,-2.7,-3.2,-2.8,-2.4,-2.9,-2.5,-2.1,-2.6, -2.2,-1.8,-2.3,-1.9,-1.5,-2.0,-1.6,-1.2,-1.7,-1.3, -0.9,-1.4,-1.0,-0.6,-1.1,-0.7,-0.3,-0.8,-0.4,0.0, -0.5,-0.1,0.3,-0.1,0.4,0.0,-0.4,0.1,-0.3,0.2, -0.2,-0.6,-0.2,0.3,-0.1,0.4,0.0,-0.4,0.1,-0.3, 0.0];
const walk43 = [0,0.3,0.8,0.4,0.9,0.5,0.1,0.6,1.0,0.6, 1.1,0.7,0.3,0.8,1.2,0.8,1.3,0.9,0.5,1.0, 1.0,0.6,1.1,0.7,0.3,0.8,0.4,0.0,0.5,0.1, -0.3,0.2,-0.2,-0.6,-0.1,-0.5,-0.9,-0.4,-0.8,-0.4, -0.8,-1.2,-0.8,-0.3,-0.7,-1.1,-0.7,-1.2,-0.8,-1.3, -1.0,-1.4,-1.0,-1.5,-1.9,-1.5,-2.0,-2.4,-2.0,-2.5, -2.9,-2.5,-2.1,-2.6,-3.0,-2.6,-3.1,-3.5,-3.1,-2.7, -3.2,-3.6,-3.2,-3.7,-4.1,-3.7,-3.3,-3.8,-4.2,-3.8, -4.3,-4.7,-4.3,-3.9,-4.4,-4.8,-4.4,-4.9,-5.3,-4.9, -4.5,-5.0,-4.6,-4.2,-4.7,-4.3,-4.8,-4.4,-4.9,-4.5, -4.5];
const walk44 = [0,-0.3,-0.7,-0.3,-0.8,-0.4,-0.9,-1.3,-0.9,-1.4, -1.0,-1.5,-1.1,-0.7,-1.2,-1.6,-1.2,-1.7,-1.3,-1.8, -1.5,-1.1,-1.6,-1.2,-0.8,-1.3,-0.9,-1.4,-1.0,-0.6, -1.1,-0.7,-1.2,-0.8,-0.4,-0.9,-0.5,-1.0,-0.6,-0.2, -0.7,-0.3,-0.8,-0.4,-0.9,-0.5,-0.1,-0.6,-0.2,-0.7, -0.5,-0.1,0.3,-0.1,0.4,0.0,0.5,0.9,0.5,0.1, 0.6,0.2,0.7,1.1,0.7,0.3,0.8,0.4,0.9,1.3, 0.9,0.5,1.0,0.6,1.1,1.5,1.1,0.7,1.2,0.8, 1.3,1.7,1.3,0.9,1.4,1.8,1.4,1.9,2.3,1.9, 1.5,2.0,1.6,2.1,2.5,2.1,1.7,2.2,1.8,2.3, 2.0];
const walk45 = [0,0.4,0.0,0.5,0.1,-0.3,0.2,0.6,0.2,0.7, 0.3,-0.1,0.4,0.0,0.5,0.9,0.5,0.1,0.6,0.2, 0.5,1.0,1.4,1.0,1.5,1.9,1.5,2.0,2.4,2.0, 2.5,2.9,2.5,3.0,3.4,3.0,3.5,3.9,3.5,4.0, 4.4,4.0,4.5,4.1,4.6,5.0,4.6,4.2,4.7,5.1, 5.0,4.6,5.1,5.5,5.1,4.7,5.2,4.8,4.4,4.9, 5.3,4.9,4.5,5.0,4.6,5.1,5.5,5.1,4.7,5.2, 4.8,4.4,4.9,4.5,4.1,4.6,5.0,4.6,4.2,4.7, 4.3,4.8,4.4,4.0,4.5,4.1,3.7,4.2,3.8,4.3, 4.7,4.3,3.9,4.4,4.0,3.6,4.1,3.7,4.2,3.8, 4.0];
const walk46 = [0,-0.4,-0.9,-0.5,-1.0,-1.4,-1.0,-1.5,-1.9,-1.5, -2.0,-1.6,-2.1,-2.5,-2.1,-2.6,-2.2,-2.7,-3.1,-2.7, -2.5,-2.1,-2.6,-2.2,-1.8,-2.3,-1.9,-1.5,-2.0,-1.6, -2.1,-1.7,-2.2,-1.8,-1.4,-1.9,-2.3,-1.9,-2.4,-2.0, -1.6,-2.1,-1.7,-2.2,-2.6,-2.2,-1.8,-2.3,-1.9,-2.4, -2.0,-2.5,-2.9,-3.4,-3.0,-3.5,-3.9,-3.5,-4.0,-4.4, -4.0,-4.5,-4.9,-4.5,-5.0,-5.4,-5.0,-5.5,-5.9,-5.5, -6.0,-6.4,-6.0,-6.5,-6.9,-6.5,-7.0,-7.4,-7.0,-6.6, -7.1,-7.5,-7.1,-7.6,-8.0,-7.6,-7.2,-7.7,-8.1,-7.7, -8.2,-8.6,-8.2,-7.8,-8.3,-8.7,-8.3,-8.8,-8.4,-8.9, -8.5];
const walk47 = [0,0.3,-0.1,0.4,0.0,0.5,0.9,0.5,0.1,0.6, 1.0,0.6,1.1,0.7,0.3,0.8,1.2,0.8,1.3,0.9, 1.0,1.5,1.1,1.6,2.0,1.6,1.2,1.7,2.1,1.7, 2.2,2.6,2.2,1.8,2.3,2.7,2.3,2.8,3.2,2.8, 2.4,2.9,3.3,2.9,3.4,3.0,2.6,3.1,3.5,3.1, 3.0,2.6,3.1,2.7,2.3,2.8,2.4,2.0,2.5,2.1, 1.7,2.2,1.8,1.4,1.9,1.5,1.1,1.6,1.2,0.8, 1.3,0.9,1.4,1.0,0.6,1.1,0.7,0.3,0.8,0.4, 0.0,0.5,0.1,0.6,0.2,-0.2,0.3,-0.1,0.4,0.0, -0.4,0.1,-0.3,0.2,0.6,0.2,-0.2,0.3,-0.1,0.4, 0.0];
const walk48 = [0,-0.3,0.1,-0.3,-0.7,-0.3,-0.8,-0.4,0.0,-0.5, -0.1,-0.6,-1.0,-0.6,-1.1,-0.7,-0.3,-0.8,-1.2,-0.8, -1.0,-1.5,-1.9,-1.5,-2.0,-2.4,-2.0,-2.5,-2.9,-2.5, -3.0,-3.4,-3.0,-3.5,-3.9,-3.5,-4.0,-3.6,-4.1,-4.5, -4.1,-4.6,-4.2,-4.7,-5.1,-4.7,-4.3,-4.8,-5.2,-4.8, -5.0,-5.4,-5.0,-4.6,-5.1,-4.7,-4.3,-4.8,-4.4,-4.0, -4.5,-4.1,-3.7,-4.2,-3.8,-3.4,-3.9,-3.5,-3.1,-3.6, -3.2,-2.8,-3.3,-2.9,-2.5,-3.0,-2.6,-3.1,-2.7,-2.3, -2.8,-2.4,-2.0,-2.5,-2.1,-2.6,-2.2,-1.8,-2.3,-1.9, -2.4,-2.0,-1.6,-2.1,-1.7,-2.2,-1.8,-2.3,-1.9,-2.4, -2.0];
const walk49 = [0,0.5,0.1,0.6,1.0,0.6,1.1,0.7,1.2,1.6, 1.2,1.7,1.3,0.9,1.4,1.8,1.4,1.9,2.3,1.9, 2.0,2.5,2.1,2.6,3.0,2.6,2.2,2.7,3.1,2.7, 3.2,2.8,3.3,3.7,3.3,2.9,3.4,3.8,3.4,3.9, 3.5,4.0,4.4,4.0,3.6,4.1,4.5,4.1,3.7,4.2, 4.0,4.5,4.1,4.6,5.0,4.6,4.2,4.7,5.1,4.7, 5.2,4.8,4.4,4.9,5.3,4.9,5.4,5.0,4.6,5.1, 5.5,5.1,5.6,5.2,4.8,5.3,5.7,5.3,5.8,5.4, 5.0,5.5,5.9,5.5,5.1,5.6,6.0,5.6,5.2,5.7, 6.1,5.7,5.3,5.8,5.4,5.9,5.5,5.1,5.6,5.2, 5.5];
const walk50 = [0,0.3,0.9,1.4,1.0,0.8,1.5,1.3,2.0,1.6, 1.4,2.1,2.5,2.2,1.7,2.0,1.5,0.9,1.1,0.5, 0.7,0.2,-0.4,-0.1,0.5,0.3,-0.3,-0.8,-0.6,-1.2, -1.0,-0.4,-0.7,-0.1,0.4,0.2,-0.2,0.6,1.1,0.7, 0.4,0.9,0.6,1.2,0.8,1.0,1.7,2.3,2.0,2.6, 2.4,3.1,2.7,2.9,3.6,3.2,3.9,4.5,4.1,3.7, 4.0,3.5,3.8,3.1,2.7,3.0,2.4,2.6,1.9,2.3, 2.8,2.5,1.9,2.2,1.7,2.0,2.6,3.3,3.0,3.7, 4.1,3.8,4.4,4.0,4.8,5.3,4.9,4.6,5.2,5.5, 5.0,4.4,4.7,4.1,3.6,3.9,3.2,3.6,2.9,3.3, 3.0];
const walk51 = [0,-0.5,-0.3,-0.9,-1.4,-1.1,-1.7,-1.5,-1.0,-1.6, -2.1,-1.8,-2.4,-2.0,-2.6,-2.2,-1.7,-1.9,-1.2,-0.8, -1.1,-0.5,-0.1,-0.4,0.2,0.7,0.3,0.9,0.6,1.2, 0.9,0.4,0.6,-0.1,-0.5,-0.2,-0.8,-0.6,-1.3,-1.0, -1.6,-2.1,-1.8,-1.4,-2.0,-2.2,-2.8,-2.5,-3.1,-2.7, -3.3,-3.0,-3.7,-4.1,-3.6,-4.2,-3.9,-4.5,-4.0,-4.6, -4.2,-3.7,-4.0,-3.4,-2.9,-3.2,-2.6,-2.0,-2.3,-1.7, -1.3,-1.6,-1.0,-1.4,-0.8,-1.1,-1.7,-1.4,-2.0,-2.5, -2.1,-2.7,-3.2,-2.8,-3.3,-3.0,-2.5,-2.9,-3.4,-3.1, -3.6,-4.2,-4.0,-4.6,-4.3,-5.0,-5.5,-5.2,-5.8,-6.3, -6.0];
const walk52 = [0,0.2,-0.3,0.1,0.6,0.3,0.9,0.5,0.2,0.7, 1.2,0.9,1.5,1.1,0.6,1.0,1.6,2.1,1.8,2.4, 2.9,2.5,3.1,2.8,3.4,3.9,3.5,3.2,3.8,4.3, 4.0,4.6,4.2,3.7,4.1,3.5,3.1,3.4,2.8,3.2, 2.7,2.3,2.9,2.5,2.0,2.2,1.6,1.9,1.3,0.8, 1.1,0.6,0.9,0.3,-0.2,0.1,-0.5,-0.3,-0.9,-0.6, -1.0,-1.5,-1.1,-1.7,-1.4,-2.0,-1.6,-2.2,-2.7,-2.4, -2.9,-2.6,-3.2,-2.8,-3.5,-3.1,-2.5,-2.8,-2.2,-1.7, -2.0,-1.4,-1.8,-1.1,-0.7,-1.0,-0.4,-0.7,-0.1,0.3, 0.0,0.6,0.2,0.9,0.5,1.1,0.7,1.3,0.8,1.2, 1.0];
const walk53 = [0,-0.3,0.2,-0.2,-0.7,-0.4,0.0,-0.5,-0.9,-0.6, -1.1,-0.7,-1.2,-0.9,-1.4,-1.0,-1.5,-1.9,-1.6,-2.2, -1.8,-2.4,-2.1,-2.7,-2.3,-2.9,-3.4,-3.0,-2.6,-3.1, -3.0,-3.6,-3.3,-3.9,-3.5,-4.1,-3.8,-4.4,-4.9,-4.5, -4.2,-4.8,-4.4,-5.0,-5.4,-5.1,-4.6,-4.2,-4.7,-4.1, -3.7,-4.0,-3.4,-3.0,-3.5,-2.9,-2.5,-2.8,-2.2,-2.6, -2.0,-1.6,-2.1,-1.5,-1.1,-1.4,-0.8,-0.4,-0.7,-0.1, 0.4,0.0,0.5,0.2,0.8,1.1,0.6,1.2,0.9,1.5, 1.9,1.6,2.2,1.8,2.4,2.0,2.7,3.1,2.8,3.4, 3.0,2.5,2.9,2.3,2.7,2.1,2.6,2.2,1.8,2.3, 2.0];
const walk54 = [0,0.5,0.2,0.8,1.3,1.0,1.6,1.3,1.9,2.4, 2.0,2.6,2.3,2.9,3.4,3.0,2.6,3.1,2.7,2.3, 2.6,2.1,1.7,2.0,1.5,1.9,2.4,2.0,1.6,2.2, 2.0,2.6,3.1,2.8,3.4,3.0,3.7,4.2,3.8,4.3, 4.0,4.6,4.3,4.9,4.5,5.0,5.6,5.2,5.8,6.3, 5.9,6.5,6.1,6.8,6.4,7.0,6.6,7.3,6.9,7.5, 7.1,6.6,7.0,6.4,5.9,6.3,5.7,5.2,5.6,5.0, 4.6,5.0,4.4,4.8,4.2,3.9,4.4,4.0,4.6,5.1, 4.7,5.3,4.9,5.5,5.1,5.8,6.3,5.9,5.5,6.1, 5.8,6.4,6.9,6.5,7.1,6.8,7.4,7.9,7.5,8.1, 7.8];
const walk55 = [0,-0.4,-0.9,-0.6,-1.2,-1.7,-1.4,-2.0,-1.7,-2.3, -2.7,-2.4,-3.0,-2.6,-3.2,-2.9,-3.4,-3.0,-2.6,-3.1, -2.7,-2.3,-2.8,-2.4,-1.9,-2.3,-1.8,-2.2,-1.7,-2.1, -1.8,-1.3,-1.7,-1.2,-0.8,-1.1,-0.6,-0.9,-0.4,-0.7, -0.2,0.3,-0.1,0.4,0.0,0.3,-0.3,0.1,-0.5,-0.9, -0.6,-1.2,-0.9,-1.5,-1.2,-1.8,-2.3,-2.0,-2.6,-2.3, -2.9,-3.4,-3.1,-3.7,-3.3,-3.9,-4.4,-4.0,-4.6,-4.2, -4.8,-5.3,-4.9,-5.5,-5.2,-5.8,-5.4,-5.0,-5.5,-5.1, -4.6,-5.0,-4.5,-4.9,-4.3,-3.9,-4.4,-4.0,-3.6,-4.1, -4.0,-4.6,-5.1,-4.8,-5.4,-5.9,-6.3,-6.0,-6.6,-7.1, -6.9];
const walk56 = [0,0.4,0.1,-0.4,0.0,-0.5,-0.2,0.3,0.0,0.5, 0.2,-0.3,-0.7,-0.4,0.1,-0.2,0.3,0.8,0.5,1.1, 0.8,1.3,1.0,1.6,1.2,1.8,2.3,1.9,2.5,2.1, 2.2,1.7,1.2,1.5,0.9,1.3,0.8,0.3,0.6,0.0, -0.4,-0.1,-0.6,-0.3,-0.9,-1.2,-0.8,-0.3,-0.6,0.0, -0.3,0.2,-0.1,0.5,0.1,0.6,1.0,0.7,1.2,0.9, 1.3,1.9,1.6,2.2,2.7,2.3,2.9,3.4,3.0,3.6, 4.0,3.7,4.3,4.8,4.4,5.0,4.6,4.1,4.5,3.9, 3.5,3.9,3.3,3.7,3.1,2.8,3.3,2.9,3.4,3.0, 3.2,3.8,3.4,4.0,4.5,4.1,4.7,4.3,4.9,4.4, 4.6];
const walk57 = [0,0.5,0.2,0.7,0.4,1.0,1.5,1.2,1.7,1.3, 1.8,2.2,1.9,2.4,2.0,2.1,1.6,1.9,1.3,0.9, 1.2,0.6,0.9,0.4,0.0,0.3,-0.3,0.0,-0.6,-0.3, -0.9,-1.4,-1.1,-1.7,-1.3,-1.9,-2.4,-2.1,-2.7,-2.3, -2.9,-3.3,-3.0,-3.6,-3.2,-3.9,-4.4,-4.0,-4.6,-4.2, -4.8,-5.3,-4.9,-5.5,-5.1,-5.7,-5.3,-5.9,-6.4,-6.0, -6.2,-5.7,-5.9,-5.3,-5.6,-5.0,-4.5,-4.8,-4.2,-3.8, -4.1,-3.5,-3.8,-3.2,-3.6,-3.0,-3.4,-3.9,-3.5,-4.1, -4.5,-4.2,-4.8,-4.4,-5.0,-4.6,-5.1,-4.7,-5.3,-4.9, -5.0,-4.5,-4.8,-4.2,-3.8,-4.1,-3.5,-3.2,-3.6,-3.1, -3.0];
const walk58 = [0,-0.4,-0.1,-0.6,-0.2,-0.7,-1.1,-0.8,-1.3,-0.9, -0.5,-0.9,-0.4,-0.8,-1.2,-1.0,-0.5,-0.8,-0.2,0.2, -0.1,0.4,0.0,0.6,0.3,0.8,0.4,1.0,0.7,1.2, 0.9,1.4,1.1,1.7,1.3,1.9,2.4,2.0,2.6,2.2, 2.7,2.4,3.0,2.6,3.2,2.9,3.4,3.0,2.6,3.1, 2.7,2.3,2.8,2.4,2.9,2.5,2.1,2.6,2.2,1.8, 2.1,1.6,1.2,1.5,0.9,1.2,0.6,0.2,0.5,-0.1, -0.5,-0.2,-0.7,-0.4,-1.0,-0.7,-1.2,-0.8,-1.3,-1.0, -1.6,-1.2,-1.7,-1.4,-1.9,-1.5,-2.1,-1.8,-2.3,-1.9, -2.2,-2.7,-2.4,-3.0,-2.7,-3.3,-3.8,-3.5,-4.1,-3.8, -4.1];
const walk59 = [0,0.3,0.7,0.4,0.9,0.5,1.0,0.6,0.3,0.8, 1.2,0.8,1.4,1.0,0.6,1.1,0.7,0.2,0.5,-0.1, -0.5,-0.2,-0.7,-0.4,-1.0,-1.4,-1.1,-1.7,-1.3,-1.9, -2.1,-1.7,-2.2,-1.8,-2.4,-2.9,-2.5,-3.0,-2.6,-3.2, -2.8,-3.3,-2.9,-2.5,-3.0,-3.1,-2.6,-2.9,-2.3,-2.6, -2.0,-1.6,-2.0,-1.4,-1.1,-1.5,-0.9,-0.5,-0.8,-0.2, 0.1,-0.3,0.3,0.7,0.4,1.0,0.6,1.2,1.6,1.3, 1.8,1.5,2.1,1.7,2.3,1.9,1.5,1.8,1.2,0.8, 1.1,0.5,0.8,0.2,-0.2,0.1,-0.5,-0.2,-0.8,-0.4, -0.9,-0.5,-0.1,-0.4,0.2,0.6,0.3,0.9,1.3,1.0, 1.5];
const walk60 = [0,-0.3,-0.8,-0.4,-0.9,-1.3,-1.0,-1.5,-1.1,-1.6, -2.0,-1.7,-2.2,-1.8,-2.4,-2.0,-2.5,-2.9,-2.6,-3.1, -2.8,-3.3,-3.0,-3.5,-3.9,-3.6,-4.1,-3.8,-4.3,-4.0, -4.3,-3.8,-4.1,-3.5,-3.1,-3.4,-2.8,-3.1,-2.6,-2.2, -2.5,-2.0,-2.3,-1.8,-2.2,-2.0,-2.5,-2.2,-2.8,-3.2, -2.9,-3.4,-3.1,-3.7,-3.4,-4.0,-4.5,-4.2,-4.7,-4.4, -5.0,-5.5,-5.1,-5.6,-5.3,-5.9,-6.3,-6.0,-6.5,-6.1, -6.6,-6.3,-6.8,-6.4,-7.0,-6.8,-7.3,-7.0,-7.6,-7.2, -7.7,-8.1,-7.8,-8.3,-7.9,-8.4,-8.0,-8.6,-9.1,-8.7, -9.0,-8.5,-8.9,-8.3,-8.7,-8.1,-8.5,-7.9,-8.4,-8.0, -8.2];
const walk61 = [0,0.4,0.9,0.6,1.2,0.9,1.4,1.9,1.6,2.1, 1.8,2.4,2.1,2.7,2.3,2.9,3.4,3.0,3.6,3.2, 3.7,3.4,3.9,4.4,4.0,4.6,4.2,4.8,4.4,5.0, 5.2,4.7,5.0,4.4,4.8,4.2,3.8,4.1,3.5,3.9, 3.4,3.0,3.3,2.8,3.2,3.0,3.5,3.2,3.8,4.3, 3.9,4.5,4.1,4.7,4.3,4.9,4.5,5.1,4.7,5.2, 5.0,5.6,5.2,5.8,6.3,5.9,6.5,7.0,6.6,7.2, 6.8,7.4,7.0,7.6,8.1,7.9,7.4,7.8,7.2,7.6, 7.1,6.7,7.1,6.6,7.0,6.5,6.9,7.4,7.0,6.6, 7.0,7.5,7.1,7.7,8.2,7.9,8.5,8.1,8.7,9.2, 9.0];
const walk62 = [0,-0.4,0.1,0.5,0.2,-0.3,0.1,-0.4,-0.1,0.4, 0.0,0.5,0.1,-0.4,-0.1,0.2,-0.3,0.1,-0.5,-0.2, -0.7,-0.3,-0.8,-1.2,-0.9,-1.4,-1.0,-0.6,-1.1,-0.7, -1.0,-0.5,-0.1,-0.4,0.2,-0.1,0.5,0.9,0.6,1.2, 0.8,1.4,1.0,1.6,1.3,1.9,2.4,2.1,1.6,2.0, 1.5,1.1,1.4,0.8,1.2,0.6,0.2,0.5,-0.1,-0.5, -0.9,-0.6,-1.2,-1.6,-1.3,-1.9,-2.4,-2.0,-2.6,-2.2, -2.8,-3.2,-2.9,-3.5,-3.1,-3.8,-4.2,-3.8,-4.3,-3.9, -3.5,-3.8,-3.2,-2.8,-3.1,-2.5,-2.9,-2.3,-1.9,-2.2, -1.8,-2.2,-1.6,-1.2,-1.5,-0.9,-0.5,-0.8,-0.2,-0.5, 0.0];
const walk63 = [0,0.3,-0.2,0.2,0.7,0.4,0.9,0.5,1.1,0.7, 1.2,0.8,1.3,0.9,0.5,1.0,1.5,1.1,1.7,2.1, 1.8,2.3,1.9,2.5,2.2,2.8,2.4,2.0,2.5,3.0, 3.1,3.6,3.3,3.9,4.4,4.0,4.6,4.2,4.8,5.3, 4.9,5.5,5.1,5.7,6.2,6.0,5.5,5.9,5.3,4.9, 5.2,4.7,5.0,4.4,4.0,4.3,3.8,3.4,3.7,3.1, 3.0,2.5,2.8,2.2,1.8,2.1,1.5,1.1,1.4,0.8, 0.4,0.7,0.1,0.4,-0.1,0.2,0.6,0.2,0.7,0.3, 0.8,1.2,0.9,1.4,1.0,1.5,1.1,0.7,1.2,0.8, 1.1,0.5,0.0,0.3,-0.3,-0.7,-0.4,-1.0,-1.5,-1.8, -2.1];
const walk64 = [0,-0.5,-0.2,-0.8,-0.4,-1.0,-0.7,-1.3,-1.0,-1.6, -1.2,-1.8,-2.3,-1.9,-2.4,-2.1,-1.6,-1.9,-1.3,-1.6, -1.1,-0.7,-1.0,-0.4,-0.7,-0.1,0.3,0.0,0.5,0.2, 0.1,-0.3,0.1,-0.4,-0.1,-0.6,-0.2,-0.7,-1.1,-0.8, -1.3,-0.9,-0.5,-0.9,-0.4,-0.8,-0.3,0.2,-0.1,0.5, 0.2,0.8,0.4,1.0,1.5,1.1,1.7,1.3,1.9,1.5, 2.0,2.4,2.1,1.6,1.9,1.3,1.7,1.1,0.7,1.0, 0.5,0.9,0.3,0.6,0.1,-0.2,0.2,-0.3,-0.8,-0.5, -1.1,-0.8,-1.4,-1.9,-1.6,-2.2,-1.8,-2.4,-2.9,-2.5, -3.1,-3.6,-3.3,-3.9,-3.5,-4.1,-4.6,-4.3,-4.9,-4.6, -5.1];
const walk65 = [0,0.4,0.8,0.5,1.0,0.6,1.1,1.6,1.2,1.8, 1.4,2.0,1.7,2.2,1.8,2.0,1.5,1.8,1.2,1.6, 1.1,0.7,1.0,0.4,0.8,0.3,-0.1,0.2,-0.3,0.1, -0.2,-0.7,-0.4,-1.0,-0.6,-1.2,-0.9,-1.5,-1.1,-1.7, -1.3,-1.9,-1.6,-2.2,-1.8,-2.0,-2.5,-2.1,-1.7,-2.2, -1.8,-1.4,-1.9,-1.5,-2.0,-1.6,-2.1,-2.6,-2.2,-2.8, -2.3,-2.9,-3.4,-3.0,-3.5,-3.1,-3.7,-3.3,-3.9,-4.4, -4.0,-4.6,-4.2,-4.8,-4.4,-5.0,-5.4,-5.1,-5.7,-5.3, -5.9,-6.3,-6.0,-6.6,-6.2,-6.8,-6.4,-7.0,-6.6,-7.2, -7.0,-6.5,-6.8,-6.2,-6.6,-6.0,-6.4,-5.8,-6.3,-5.9, -6.1];
const walk66 = [0,-0.3,0.1,-0.4,-0.8,-0.5,-1.0,-0.6,-0.2,-0.7, -0.4,-0.9,-0.5,-1.1,-0.7,-1.0,-0.5,-0.1,-0.4,0.2, 0.6,0.3,0.9,0.5,1.1,0.8,1.4,1.9,1.5,2.1, 2.0,2.5,2.2,2.8,2.4,3.0,2.7,3.3,2.9,3.5, 3.1,3.7,3.3,3.9,3.5,4.0,4.5,4.1,4.7,4.3, 4.9,5.3,5.0,5.6,5.2,5.8,5.4,6.0,5.6,6.2, 6.0,5.5,5.8,5.2,4.8,5.1,4.5,4.1,4.4,3.8, 4.2,3.6,3.9,3.3,2.9,3.2,2.6,3.0,2.4,2.0, 2.3,1.7,2.1,1.5,1.1,1.4,0.8,1.2,0.7,1.1, 1.0,1.5,1.2,1.8,2.3,1.9,2.5,2.1,2.7,3.2, 3.0];
const walk67 = [0,0.4,0.0,0.5,0.1,0.6,0.2,0.7,0.3,0.9, 0.5,1.0,0.6,1.2,0.8,1.1,0.6,0.2,0.5,-0.1, 0.2,-0.3,0.1,-0.5,-0.1,-0.7,-0.3,-0.9,-0.5,-1.1, -1.0,-0.5,-0.9,-0.3,0.1,-0.2,0.4,0.0,0.6,0.2, 0.7,0.3,0.9,0.5,1.1,0.9,1.4,1.0,1.6,1.2, 1.7,2.2,1.8,2.4,2.0,2.6,2.2,2.8,2.4,3.0, 3.1,3.6,3.3,3.9,4.3,4.0,4.6,4.2,4.8,5.3, 4.9,5.5,5.1,5.7,5.3,5.9,5.5,5.1,5.6,5.2, 4.7,5.1,4.5,4.9,4.3,3.9,4.2,3.6,4.0,3.5, 4.0,4.5,4.1,4.7,5.2,4.8,5.4,5.9,5.5,6.1, 5.9];
const walk68 = [0,-0.5,-1.0,-0.7,-1.3,-0.9,-1.5,-2.0,-1.6,-2.2, -1.8,-2.4,-2.0,-2.6,-3.1,-2.8,-3.3,-2.9,-3.5,-3.1, -3.6,-4.1,-3.7,-4.3,-3.9,-4.5,-4.1,-4.7,-5.2,-4.8, -5.1,-4.6,-4.9,-4.3,-4.7,-4.1,-4.5,-3.9,-4.3,-3.7, -4.1,-3.5,-3.9,-3.3,-2.9,-3.2,-2.6,-3.0,-2.4,-2.8, -2.2,-1.8,-2.2,-1.6,-2.0,-1.4,-1.0,-1.3,-0.7,-1.1, -0.9,-1.4,-1.0,-1.6,-1.2,-1.8,-1.4,-2.0,-1.6,-2.1, -1.7,-2.3,-1.9,-2.5,-2.1,-1.9,-2.4,-2.8,-2.5,-3.1, -3.5,-3.2,-3.8,-3.4,-4.0,-4.5,-4.1,-4.7,-4.3,-4.9, -5.1,-4.6,-5.0,-4.4,-4.8,-4.2,-3.8,-4.1,-3.5,-3.9, -3.5];
const walk69 = [0,0.5,0.9,0.6,1.1,0.7,1.3,0.9,1.5,1.2, 1.7,1.3,1.9,2.4,2.0,2.2,1.7,2.1,1.6,2.0, 1.5,1.9,1.4,1.8,1.3,1.7,1.2,0.8,1.1,0.6, 1.0,0.5,0.9,0.3,-0.1,0.2,-0.3,0.1,-0.4,-0.8, -0.5,-1.0,-0.6,-1.2,-0.8,-1.1,-1.6,-1.2,-1.8,-2.2, -1.9,-2.4,-2.0,-2.6,-2.2,-2.8,-2.4,-3.0,-2.6,-3.2, -3.0,-2.5,-2.9,-2.3,-2.7,-2.1,-2.5,-1.9,-2.4,-2.0, -2.5,-1.9,-2.3,-1.7,-2.2,-1.8,-1.3,-1.7,-1.1,-0.7, -1.0,-0.4,-0.8,-0.2,0.2,-0.1,0.5,0.1,0.7,1.1, 0.8,0.3,0.6,0.0,-0.4,-0.1,-0.6,-0.3,-0.9,-0.6, -1.0];
const walk70 = [0,0.3,-0.2,0.2,-0.3,0.1,0.5,0.1,-0.3,0.2, -0.2,0.3,-0.1,0.4,0.0,0.2,-0.3,0.0,-0.6,-0.2, -0.7,-1.1,-0.8,-1.3,-0.9,-1.5,-1.1,-1.7,-1.3,-1.9, -2.0,-1.5,-1.9,-2.4,-2.0,-2.6,-2.2,-2.8,-2.4,-3.0, -2.6,-3.1,-2.7,-3.3,-2.9,-3.1,-3.6,-3.2,-3.8,-4.3, -3.9,-4.5,-4.1,-4.7,-5.2,-4.8,-5.4,-5.0,-5.6,-6.1, -6.0,-5.5,-5.9,-5.3,-5.7,-5.1,-5.5,-4.9,-5.3,-4.8, -5.2,-4.7,-5.1,-4.6,-5.0,-5.1,-5.6,-6.0,-5.7,-6.3, -6.7,-6.4,-7.0,-6.6,-7.2,-7.7,-7.3,-7.9,-7.5,-8.1, -8.0,-7.5,-7.9,-7.3,-7.8,-7.4,-7.9,-7.5,-7.1,-7.6, -7.5];
const walk71 = [0,-0.4,0.0,-0.5,-0.1,-0.6,-0.2,-0.8,-0.4,-0.9, -0.5,-1.1,-0.7,-1.2,-0.8,-1.0,-1.5,-1.1,-1.7,-1.3, -1.9,-2.4,-2.0,-2.6,-2.2,-2.8,-2.4,-3.0,-2.6,-3.2, -3.0,-2.5,-2.9,-2.3,-1.9,-2.2,-1.6,-2.0,-1.4,-1.0, -1.3,-0.7,-1.1,-0.5,-0.1,0.0,0.5,0.1,0.7,0.3, 0.9,0.5,1.1,0.7,1.3,0.9,1.5,1.1,1.7,2.2, 2.0,2.5,2.1,2.7,2.3,2.9,3.4,3.0,3.6,3.2, 3.8,3.4,4.0,3.6,4.2,4.0,3.5,3.9,3.3,3.7, 3.1,3.5,2.9,3.3,2.7,2.3,2.6,2.0,2.4,1.8, 2.0,1.5,1.8,1.2,0.8,1.1,0.5,0.1,0.4,-0.2, -0.5];
const walk72 = [0,0.3,0.8,0.4,0.9,1.3,1.0,1.5,1.1,1.6, 1.2,1.7,1.3,1.9,1.5,2.0,2.5,2.1,2.7,2.3, 2.8,3.3,2.9,3.5,3.1,3.7,3.3,3.9,3.5,4.1, 4.0,3.5,3.9,3.3,2.9,3.2,2.6,3.0,2.4,2.0, 2.3,1.7,2.1,1.5,1.1,1.2,0.7,1.1,0.5,0.9, 0.4,0.8,0.2,0.6,0.0,0.4,-0.2,0.2,-0.4,0.1, 0.0,0.5,0.1,0.7,0.3,0.9,0.5,1.1,1.6,1.2, 1.8,1.4,2.0,1.6,2.2,2.0,2.5,2.1,2.7,2.3, 2.9,3.4,3.0,3.6,3.2,3.8,3.4,4.0,3.6,4.2, 4.0,4.6,5.1,4.7,5.3,5.8,5.4,6.0,6.5,6.1, 6.5];
const walk73 = [0,-0.5,-0.1,-0.6,-1.0,-0.7,-1.2,-0.8,-1.4,-1.0, -1.6,-1.2,-1.8,-1.4,-2.0,-2.0,-1.5,-1.9,-1.3,-1.7, -1.2,-1.6,-1.0,-1.4,-0.9,-1.3,-0.8,-1.2,-0.7,-1.1, -1.0,-1.5,-1.1,-1.7,-2.2,-1.8,-2.4,-2.0,-2.6,-3.1, -2.7,-3.3,-2.9,-3.5,-4.0,-4.0,-3.5,-3.9,-3.3,-3.7, -3.1,-3.5,-2.9,-3.3,-2.7,-3.1,-2.5,-2.9,-3.3,-2.9, -3.0,-2.5,-2.9,-2.3,-1.9,-2.2,-1.6,-2.0,-1.4,-1.0, -1.3,-0.7,-1.1,-0.5,-0.1,0.0,-0.5,-0.1,-0.7,-0.3, -0.9,-1.3,-0.9,-1.5,-1.1,-1.7,-1.3,-1.9,-1.5,-2.1, -2.0,-1.5,-1.9,-1.3,-1.7,-1.1,-1.5,-1.9,-1.4,-1.8, -1.5];
const walk74 = [0,0.4,-0.1,0.3,0.7,0.4,0.0,0.5,0.1,0.6, 1.0,0.7,1.2,0.8,1.3,1.0,1.4,1.0,1.6,1.2, 1.7,1.3,1.9,1.5,2.1,1.7,2.2,1.8,2.4,2.0, 2.1,1.6,2.0,1.4,1.8,1.2,0.8,1.1,0.5,0.9, 0.4,0.8,0.2,0.6,0.1,0.0,-0.5,-0.1,-0.7,-1.1, -0.8,-1.4,-1.0,-1.6,-2.1,-1.7,-2.3,-1.9,-2.5,-3.0, -2.9,-3.4,-3.0,-3.6,-3.2,-3.7,-3.3,-3.9,-3.5,-4.1, -3.7,-4.2,-3.8,-4.4,-4.0,-4.1,-4.6,-4.2,-4.8,-5.3, -4.9,-5.5,-5.1,-5.7,-5.3,-5.9,-6.4,-6.0,-6.5,-6.1, -6.0,-5.5,-5.9,-5.3,-5.7,-5.1,-5.5,-4.9,-5.4,-5.0, -5.2];
const walk75 = [0,-0.3,-0.7,-0.4,-0.9,-0.5,-1.0,-0.6,-0.2,-0.7, -0.3,-0.8,-0.4,-1.0,-0.6,-0.9,-0.4,0.0,-0.3,0.3, -0.1,0.4,0.0,0.6,0.2,0.8,0.4,1.0,0.6,1.2, 1.0,1.5,1.1,1.7,1.3,1.9,1.5,2.1,2.6,2.2, 2.8,2.4,3.0,2.6,3.2,3.0,3.5,3.1,3.7,3.3, 3.9,4.4,4.0,4.6,4.2,4.8,4.4,5.0,4.6,5.2, 5.0,4.5,4.9,4.3,3.9,4.2,3.6,4.0,3.4,3.0, 3.3,2.7,3.1,2.5,2.1,2.0,2.5,2.1,2.7,2.3, 2.9,2.5,3.1,2.7,3.3,2.9,3.5,3.1,2.7,3.2, 3.0,2.5,2.9,2.3,1.9,2.2,1.6,1.2,1.5,0.9, 1.0];

const walks = [walk00,walk01,walk02,walk03,walk04,walk05,walk06,walk07,walk08,walk09,
  walk10,walk11,walk12,walk13,walk14,walk15,walk16,walk17,walk18,walk19,
  walk20,walk21,walk22,walk23,walk24,walk25,walk26,walk27,walk28,walk29,
  walk30,walk31,walk32,walk33,walk34,walk35,walk36,walk37,walk38,walk39,
  walk40,walk41,walk42,walk43,walk44,walk45,walk46,walk47,walk48,walk49,
  walk50,walk51,walk52,walk53,walk54,walk55,walk56,walk57,walk58,walk59,
  walk60,walk61,walk62,walk63,walk64,walk65,walk66,walk67,walk68,walk69,
  walk70,walk71,walk72,walk73,walk74,walk75];

const svg = d3.select('#chart');
svg.append('rect').attr('width', 864).attr('height', 432).attr('fill', '#fff');

const L = 108, R = 777.6, T = 52.3, B = 378.3;
const nMax = d3.max(walks, w => w.length - 1);
const xPad = nMax * 0.05;
const x = d3.scaleLinear().domain([-xPad, nMax + xPad]).range([L, R]);
const yMin = d3.min(walks, w => d3.min(w)), yMax = d3.max(walks, w => d3.max(w));
const yPad = (yMax - yMin) * 0.05;
const y = d3.scaleLinear().domain([yMin - yPad, yMax + yPad]).range([B, T]);

const color = d3.scaleOrdinal(d3.schemeCategory10);
const line = d3.line().x((d, i) => x(i)).y(d => y(d));

svg.append('g').selectAll('path.walk').data(walks).join('path')
  .attr('class', 'walk')
  .attr('d', d => line(d))
  .attr('fill', 'none')
  .attr('stroke', (d, i) => color(i % 10))
  .attr('stroke-width', 1.5)
  .attr('stroke-opacity', 0.5)
  .attr('stroke-linejoin', 'round')
  .attr('stroke-linecap', 'square');

const fmt = v => (v < 0 ? '\u2212' + Math.abs(v) : String(v));
const font = 'DejaVu Sans, sans-serif';

const xAxis = d3.axisBottom(x).tickValues(xTicks).tickSize(3.5).tickPadding(3.5).tickFormat(fmt);
const yAxis = d3.axisLeft(y).tickValues(yTicks).tickSize(3.5).tickPadding(3.5).tickFormat(fmt);

const gx = svg.append('g').attr('transform', `translate(0,${B})`).call(xAxis);
const gy = svg.append('g').attr('transform', `translate(${L},0)`).call(yAxis);
[gx, gy].forEach(a => {
  a.select('.domain').remove();
  a.selectAll('.tick line').attr('stroke', '#000').attr('stroke-width', 0.8);
  a.selectAll('.tick text').attr('fill', '#000').style('font-family', font).style('font-size', '10px');
});

svg.append('rect')
  .attr('x', L).attr('y', T).attr('width', R - L).attr('height', B - T)
  .attr('fill', 'none').attr('stroke', '#000').attr('stroke-width', 0.8);
</script>
</body></html>
